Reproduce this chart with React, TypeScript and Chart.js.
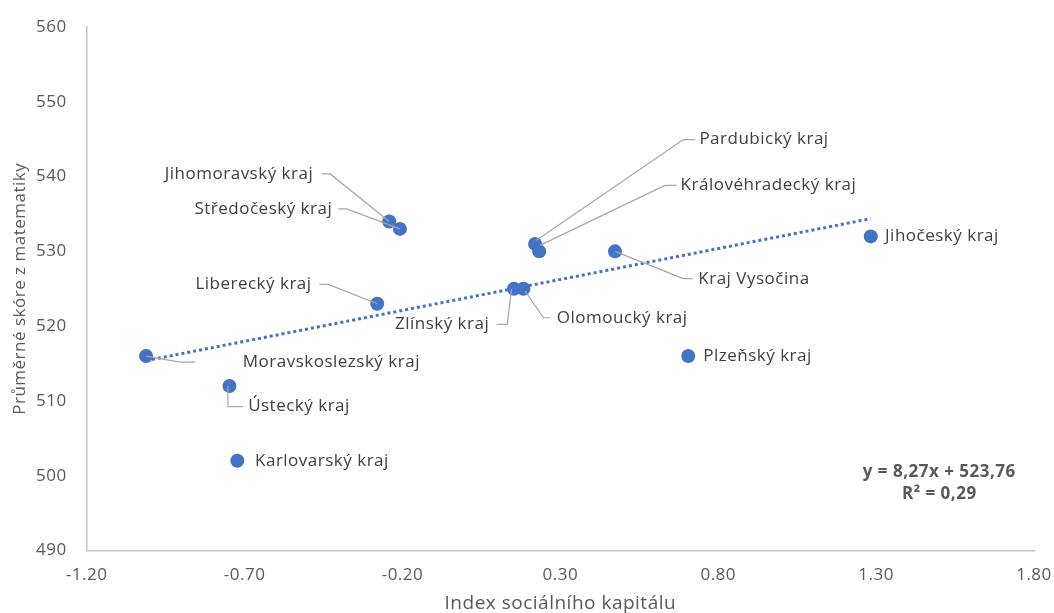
import React, { useEffect, useRef } from "react";
import { Chart, registerables } from "chart.js";

Chart.register(...registerables);

// ---- Data ----
const regions = [
  "Moravskoslezský kraj",
  "Ústecký kraj",
  "Karlovarský kraj",
  "Liberecký kraj",
  "Jihomoravský kraj",
  "Středočeský kraj",
  "Zlínský kraj",
  "Olomoucký kraj",
  "Pardubický kraj",
  "Královéhradecký kraj",
  "Kraj Vysočina",
  "Plzeňský kraj",
  "Jihočeský kraj",
];
const socialCapital = [-1.012, -0.748, -0.723, -0.28, -0.242, -0.208, 0.153, 0.183, 0.22, 0.233, 0.473, 0.705, 1.283];
const mathScore = [516, 512, 502, 523, 534, 533, 525, 525, 531, 530, 530, 516, 532];
const xTicks = [-1.2, -0.7, -0.2, 0.3, 0.8, 1.3, 1.8];
const yTicks = [490, 500, 510, 520, 530, 540, 550, 560];
const trendSlope = 8.27;
const trendIntercept = 523.76;
const rSquared = 0.29;
const xTitle = "Index sociálního kapitálu";
const yTitle = "Průměrné skóre z matematiky";

// ---- Label placement (pixel offsets from each point) ----
type LabelLayout = { dx: number; dy: number; align: CanvasTextAlign; leader?: [number, number][] };
const labelLayout: LabelLayout[] = [
  { dx: 96.7, dy: 6, align: "left", leader: [[0, 0], [34, 6], [49, 6]] },
  { dx: 18.7, dy: 20.6, align: "left", leader: [[-1.5, 0], [-1.5, 20.6], [14, 20.6]] },
  { dx: 17.7, dy: 0, align: "left" },
  { dx: -65.6, dy: -19.3, align: "right", leader: [[0, 0], [-49, -19.3], [-58, -19.3]] },
  { dx: -76, dy: -47.5, align: "right", leader: [[0, 0], [-59, -47.5], [-67.5, -47.5]] },
  { dx: -67.7, dy: -20, align: "right", leader: [[0, 0], [-53.3, -20], [-61.7, -20]] },
  { dx: -24.7, dy: 35.7, align: "right", leader: [[-2.3, 0], [-6.7, 35.7], [-17.3, 35.7]] },
  { dx: 33.4, dy: 29, align: "left", leader: [[1.7, 2.4], [20, 29], [26.7, 29]] },
  { dx: 164.3, dy: -104.3, align: "left", leader: [[1, -3.3], [148.3, -104.3], [160, -104.3]] },
  { dx: 141.4, dy: -66, align: "left", leader: [[0.7, -6], [125.7, -66], [137.4, -66]] },
  { dx: 83.3, dy: 27.3, align: "left", leader: [[0, 0], [68.3, 27.3], [77.7, 27.3]] },
  { dx: 15, dy: 0, align: "left" },
  { dx: 14.3, dy: 0, align: "left" },
];
const equationAnchor = { x: 1.5, y: 500.5 };

const FONT = "Open Sans";
const fmtComma = (v: number) => v.toFixed(2).replace(".", ",");

const labelPlugin = {
  id: "pointLabels",
  beforeDraw(chart: any) {
    chart.ctx.letterSpacing = "0.5px";
  },
  afterDatasetsDraw(chart: any) {
    const { ctx, scales } = chart;
    const xs = scales.x;
    const ys = scales.y;
    ctx.save();
    ctx.letterSpacing = "0.5px";
    regions.forEach((name, i) => {
      const px = xs.getPixelForValue(socialCapital[i]);
      const py = ys.getPixelForValue(mathScore[i]);
      const L = labelLayout[i];
      if (L.leader) {
        ctx.beginPath();
        ctx.strokeStyle = "#A6A6A6";
        ctx.lineWidth = 1.2;
        L.leader.forEach(([dx, dy], k) => {
          if (k === 0) ctx.moveTo(px + dx, py + dy);
          else ctx.lineTo(px + dx, py + dy);
        });
        ctx.stroke();
      }
      ctx.font = `17px "${FONT}"`;
      ctx.fillStyle = "#404040";
      ctx.textAlign = L.align;
      ctx.textBaseline = "middle";
      ctx.fillText(name, px + L.dx, py + L.dy);
    });
    const ex = xs.getPixelForValue(equationAnchor.x);
    const ey = ys.getPixelForValue(equationAnchor.y);
    ctx.font = `bold 17px "${FONT}"`;
    ctx.fillStyle = "#595959";
    ctx.textAlign = "center";
    ctx.textBaseline = "middle";
    ctx.fillText(`y = ${fmtComma(trendSlope)}x + ${fmtComma(trendIntercept)}`, ex, ey);
    ctx.fillText(`R² = ${fmtComma(rSquared)}`, ex, ey + 22.3);
    ctx.restore();
  },
};

export default function App() {
  const ref = useRef<HTMLCanvasElement | null>(null);

  useEffect(() => {
    document.body.style.margin = "0";
    document.body.style.overflow = "hidden";
    const canvas = ref.current;
    if (!canvas) return;

    const minX = Math.min(...socialCapital);
    const maxX = Math.max(...socialCapital);
    const trendData = [
      { x: minX, y: trendSlope * minX + trendIntercept },
      { x: maxX, y: trendSlope * maxX + trendIntercept },
    ];

    const chart = new Chart(canvas, {
      type: "scatter",
      data: {
        datasets: [
          {
            label: "Kraje",
            data: socialCapital.map((x, i) => ({ x, y: mathScore[i] })),
            backgroundColor: "#4472C4",
            borderColor: "#4472C4",
            borderWidth: 0,
            pointRadius: 7,
            pointHoverRadius: 7,
            order: 0,
          },
          {
            label: "Trend",
            data: trendData,
            showLine: true,
            borderColor: "#4472C4",
            borderWidth: 3,
            borderDash: [3, 3],
            pointRadius: 0,
            pointHoverRadius: 0,
            fill: false,
            order: 1,
          },
        ],
      },
      options: {
        animation: false,
        responsive: false,
        devicePixelRatio: 1,
        events: [],
        layout: { padding: { top: 27, right: 20, left: 0, bottom: 0 } },
        plugins: {
          legend: { display: false },
          tooltip: { enabled: false },
        },
        scales: {
          x: {
            type: "linear",
            min: -1.2,
            max: 1.8,
            afterBuildTicks: (s: any) => {
              s.ticks = xTicks.map((v) => ({ value: v }));
            },
            afterFit: (s: any) => {
              s.height = 613 - 550.5;
              s.paddingLeft = 0;
              s.paddingRight = 0;
            },
            grid: { display: false, drawTicks: false },
            border: { display: true, color: "#C4C4C4", width: 1.5 },
            ticks: {
              padding: 14,
              color: "#595959",
              font: { family: FONT, size: 17 },
              autoSkip: false,
              maxRotation: 0,
              callback: (v: any) => Number(v).toFixed(2),
            },
            title: {
              display: true,
              text: xTitle,
              color: "#595959",
              font: { family: FONT, size: 19, lineHeight: 1 },
              padding: 0,
            },
          },
          y: {
            type: "linear",
            min: 490,
            max: 560,
            afterBuildTicks: (s: any) => {
              s.ticks = yTicks.map((v) => ({ value: v }));
            },
            afterFit: (s: any) => {
              s.width = 86.7;
              s.paddingTop = 0;
              s.paddingBottom = 0;
            },
            grid: { display: false, drawTicks: false },
            border: { display: true, color: "#C4C4C4", width: 1.5 },
            ticks: {
              padding: 20,
              color: "#595959",
              font: { family: FONT, size: 17 },
              autoSkip: false,
              callback: (v: any) => String(v),
            },
            title: {
              display: true,
              text: yTitle,
              color: "#595959",
              font: { family: FONT, size: 17, lineHeight: 1.2 },
              padding: { top: 10, bottom: 0 },
            },
          },
        },
      },
      plugins: [labelPlugin],
    });

    return () => chart.destroy();
  }, []);

  return (
    <div style={{ width: 1054, height: 613 }}>
      <canvas ref={ref} width={1054} height={613} style={{ display: "block" }} />
    </div>
  );
}
